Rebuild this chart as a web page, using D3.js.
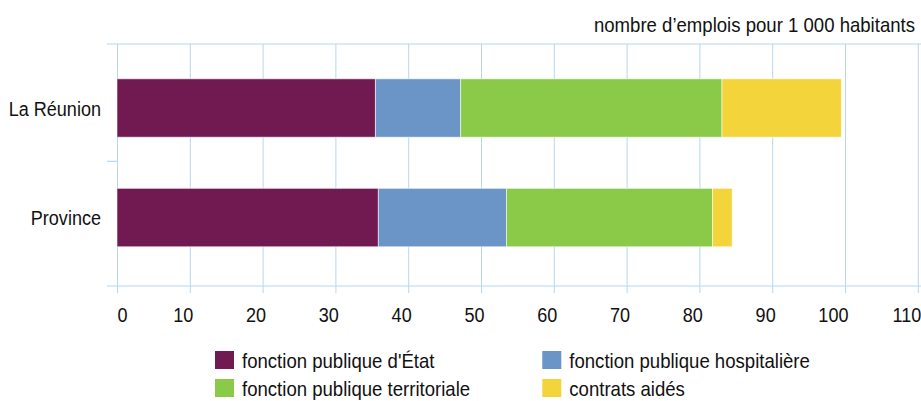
<!DOCTYPE html>
<html>
<head>
<meta charset="utf-8">
<script src="https://cdn.jsdelivr.net/npm/d3@7"></script>
<style>
  html, body { margin: 0; padding: 0; background: #fff; }
  svg { display: block; }
  text { font-family: "Liberation Sans", Arial, sans-serif; fill: #111; }
</style>
</head>
<body>
<svg id="chart" width="921" height="401"></svg>
<script>
// ---- data ----
const categories = ["La Réunion", "Province"];
const seriesNames = ["fonction publique d'État", "fonction publique hospitalière", "fonction publique territoriale", "contrats aidés"];
const etat = [35.5, 35.9];
const hospitaliere = [11.7, 17.6];
const territoriale = [35.9, 28.3];
const contrats = [16.4, 2.7];
const tickValues = [0, 10, 20, 30, 40, 50, 60, 70, 80, 90, 100, 110];
const unitLabel = "nombre d’emplois pour 1 000 habitants";

// ---- styles ----
const colors = ["#701a51", "#6b94c7", "#8bca48", "#f3d43b"];
const gridColor = "#b9d5ef";
const narrow = 0.86;   // horizontal condensation to mimic a narrow face
const narrow2 = 0.885;

const svg = d3.select("#chart");
const W = 921, H = 401;
const plot = { left: 117, right: 917.8, top: 44, bottom: 286 };

const x = d3.scaleLinear().domain([0, 110]).range([plot.left, plot.right]);
const y = d3.scaleBand().domain(categories).range([plot.top, plot.bottom])
  .paddingInner(0.467).paddingOuter(0.338).align(0.47);

// build table
const table = categories.map((c, i) => ({
  cat: c,
  [seriesNames[0]]: etat[i],
  [seriesNames[1]]: hospitaliere[i],
  [seriesNames[2]]: territoriale[i],
  [seriesNames[3]]: contrats[i]
}));
const stack = d3.stack().keys(seriesNames)(table);
const color = d3.scaleOrdinal().domain(seriesNames).range(colors);

// grid (vertical lines)
svg.append("g")
  .attr("transform", `translate(0,${plot.bottom})`)
  .call(d3.axisBottom(x).tickValues(tickValues).tickSize(-(plot.bottom - plot.top)).tickFormat(""))
  .call(g => g.select(".domain").remove())
  .call(g => g.selectAll("line").attr("stroke", gridColor).attr("stroke-width", 1));

// horizontal frame lines
svg.append("line").attr("x1", 107).attr("x2", W).attr("y1", plot.top).attr("y2", plot.top)
  .attr("stroke", gridColor).attr("stroke-width", 1.2);
svg.append("line").attr("x1", 107).attr("x2", W).attr("y1", plot.bottom).attr("y2", plot.bottom)
  .attr("stroke", gridColor).attr("stroke-width", 1.2);

// category separator tick
const midY = (y(categories[0]) + y.bandwidth() + y(categories[1])) / 2 - 1.5;
svg.append("line").attr("x1", 107).attr("x2", plot.left).attr("y1", midY).attr("y2", midY)
  .attr("stroke", gridColor).attr("stroke-width", 1.2);

// x axis with labels
svg.append("g")
  .attr("transform", `translate(0,${plot.bottom})`)
  .call(d3.axisBottom(x).tickValues(tickValues).tickSize(7).tickFormat(d3.format("d")))
  .call(g => g.select(".domain").remove())
  .call(g => g.selectAll("line").attr("stroke", gridColor))
  .call(g => g.selectAll("text")
    .attr("x", 0).attr("y", 0).attr("dy", 0)
    .attr("transform", d => `translate(${d === 0 ? 0 : 3},36) scale(${narrow},1)`)
    .attr("font-size", 21)
    .attr("fill", "#111")
    .attr("text-anchor", d => d === 0 ? "start" : "end")
    .style("font-family", '"Liberation Sans", Arial, sans-serif'));

// bars
svg.append("g").selectAll("g").data(stack).join("g")
  .attr("fill", d => color(d.key))
  .selectAll("rect").data(d => d).join("rect")
  .attr("x", d => x(d[0]))
  .attr("width", d => x(d[1]) - x(d[0]))
  .attr("y", d => y(d.data.cat))
  .attr("height", y.bandwidth())
  .attr("stroke", "#ffffff")
  .attr("stroke-opacity", 0.55)
  .attr("stroke-width", 1);

// category labels
svg.append("g").selectAll("text").data(categories).join("text")
  .attr("transform", d => `translate(101,${y(d) + y.bandwidth() / 2 + 7.5}) scale(${narrow},1)`)
  .attr("text-anchor", "end")
  .attr("font-size", 21)
  .text(d => d);

// unit label
svg.append("text")
  .attr("transform", `translate(915,32) scale(${narrow2},1)`)
  .attr("text-anchor", "end")
  .attr("font-size", 21).text(unitLabel);

// legend
const legendPos = [
  { x: 215, y: 351 }, { x: 542.3, y: 351 },
  { x: 215, y: 379 }, { x: 542.3, y: 379 }
];
const lg = svg.append("g").selectAll("g").data(seriesNames).join("g")
  .attr("transform", (d, i) => `translate(${legendPos[i].x},${legendPos[i].y})`);
lg.append("rect").attr("width", 19).attr("height", 18).attr("fill", d => color(d));
lg.append("text")
  .attr("transform", `translate(27,17) scale(${narrow2},1)`)
  .attr("font-size", 21).text(d => d);
</script>
</body>
</html>
